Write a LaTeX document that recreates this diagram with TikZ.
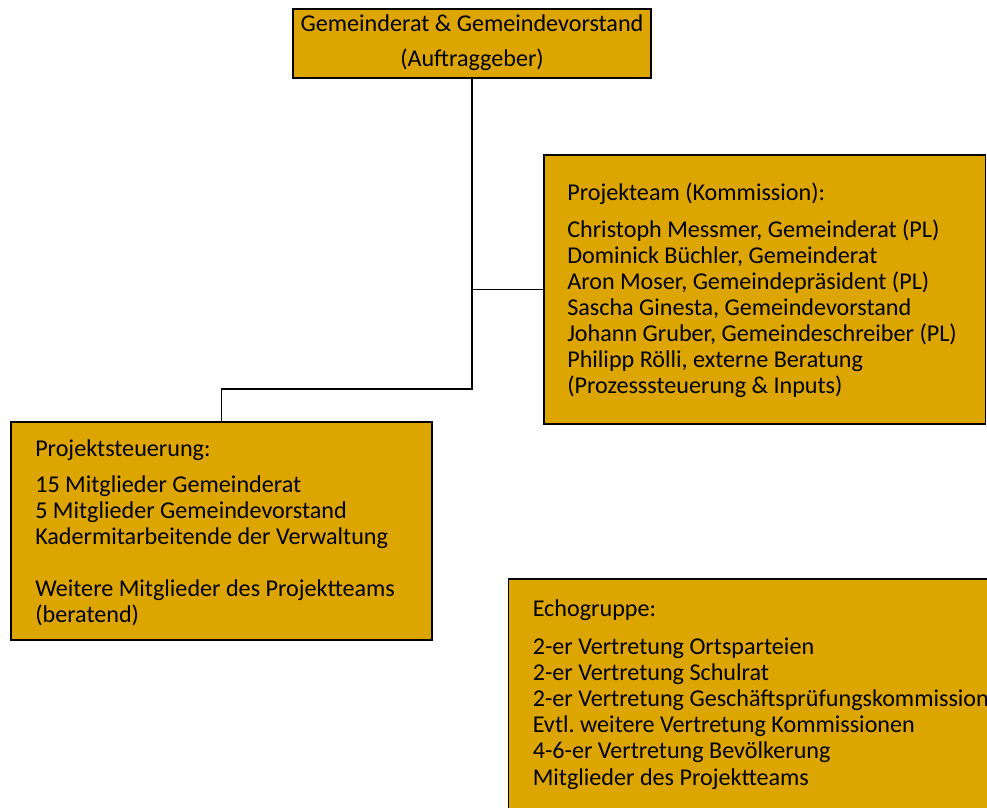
\documentclass[tikz,border=0pt]{standalone}
\usepackage{fontspec}
\setmainfont{Carlito}
\usetikzlibrary{fit}
\definecolor{gold}{RGB}{221,165,0}
\begin{document}
\begin{tikzpicture}[x=0.75pt,y=-0.75pt,
  box/.style={draw=black, fill=gold, line width=1.3pt, inner sep=0pt},
  txt/.style={anchor=base west, inner sep=0pt, font=\fontsize{18.1}{21}\selectfont\frenchspacing},
  ctxt/.style={anchor=base, inner sep=0pt, font=\fontsize{18.1}{21}\selectfont\frenchspacing},
  conn/.style={draw=black, line width=1.3pt}]
\useasboundingbox (0,0) rectangle (987,807);
\clip (0,0) rectangle (987,807);
\node[box, fit={(293,9) (651,78)}] (top) {};
\node[box, fit={(544,155) (985.5,424)}] (team) {};
\node[box, fit={(11,422) (432,640)}] (steu) {};
\node[box, fit={(508.5,579) (1020,840)}] (echo) {};
\coordinate (bend) at (472,389);
\draw[conn] (top.south) -- (top.south |- bend) -| (steu.north);
\draw[conn] (top.south |- team.west) -- (team.west);
% top box text
\node[ctxt] (t1) at (472,31.7) {Gemeinderat \& Gemeindevorstand};
\node[ctxt] (t2) at (472,66.7) {(Auftraggeber)};
% Projekteam
\node[txt] (ph) at (567,200.7) {Projekteam (Kommission):};
\foreach \t [count=\i] in {{Christoph Messmer, Gemeinderat (PL)},{Dominick Büchler, Gemeinderat},{Aron Moser, Gemeindepräsident (PL)},{Sascha Ginesta, Gemeindevorstand},{Johann Gruber, Gemeindeschreiber (PL)},{Philipp Rölli, externe Beratung},{(Prozesssteuerung \& Inputs)}}
  \node[txt] (p\i) at (567,{237+26*(\i-1)}) {\t};
% Projektsteuerung
\node[txt] (sh) at (35,456.7) {Projektsteuerung:};
\foreach \t [count=\i] in {{15 Mitglieder Gemeinderat},{5 Mitglieder Gemeindevorstand},{Kadermitarbeitende der Verwaltung}}
  \node[txt] (s\i) at (35,{492+26*(\i-1)}) {\t};
\node[txt] (s4) at (35,596.7) {Weitere Mitglieder des Projektteams};
\node[txt] (s5) at (35,622.7) {(beratend)};
% Echogruppe
\node[txt] (eh) at (532.5,616.7) {Echogruppe:};
\foreach \t [count=\i] in {{2-er Vertretung Ortsparteien},{2-er Vertretung Schulrat},{2-er Vertretung Geschäftsprüfungskommission},{Evtl. weitere Vertretung Kommissionen},{4-6-er Vertretung Bevölkerung},{Mitglieder des Projektteams}}
  \node[txt] (e\i) at (532.5,{654+26.2*(\i-1)}) {\t};
\end{tikzpicture}
\end{document}
